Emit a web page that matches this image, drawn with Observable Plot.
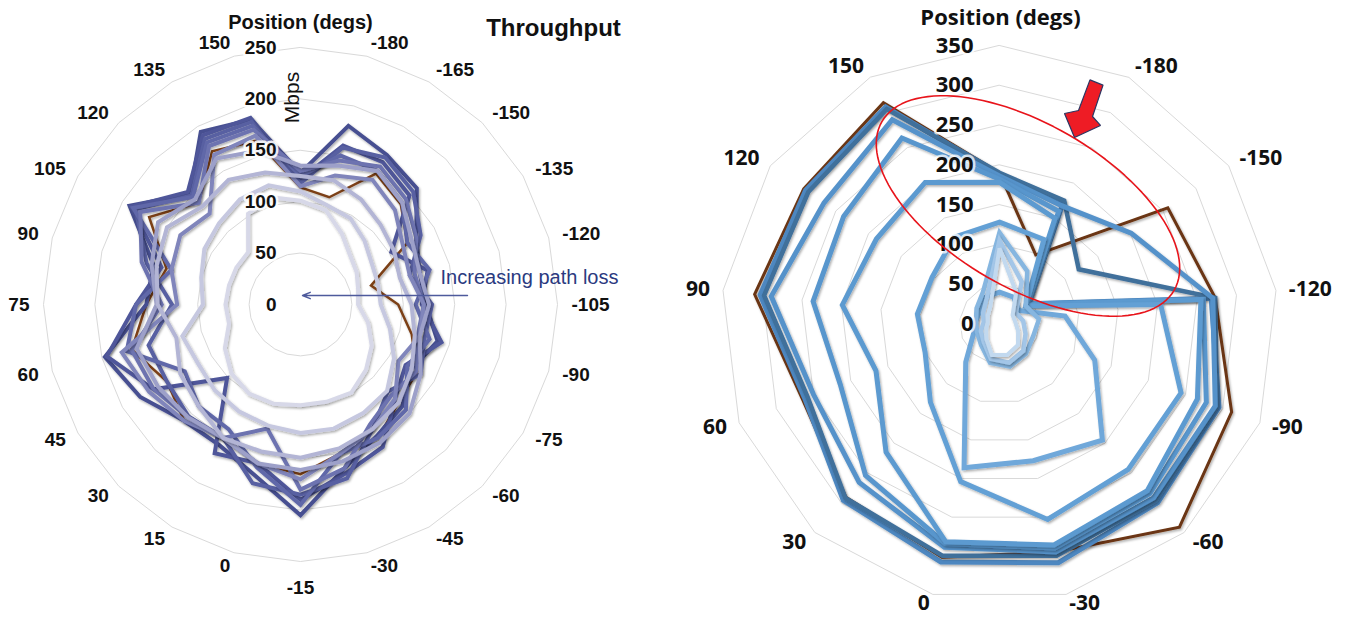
<!DOCTYPE html>
<html>
<head>
<meta charset="utf-8">
<script src="https://cdn.jsdelivr.net/npm/d3@7"></script>
<script src="https://cdn.jsdelivr.net/npm/@observablehq/plot@0.6"></script>
<style>
  html, body { margin: 0; padding: 0; background: #fff; }
  #wrap { position: relative; width: 1352px; height: 618px; overflow: hidden; }
  #left, #right { position: absolute; top: 0; width: 676px; height: 618px; }
  #left { left: 0; }
  #right { left: 676px; }
  svg { display: block; }
</style>
</head>
<body>
<div id="wrap"><div id="left"></div><div id="right"></div></div>
<script>
// ================= DATA =================
// ---- Left chart: Throughput, 24 positions (clockwise from top) ----
const leftPositions = [165, -180, -165, -150, -135, -120, -105, -90, -75, -60, -45, -30, -15, 0, 15, 30, 45, 60, 75, 90, 105, 120, 135, 150];
const leftTickLabels = ["", "-180", "-165", "-150", "-135", "-120", "-105", "-90", "-75", "-60", "-45", "-30", "-15", "0", "15", "30", "45", "60", "75", "90", "105", "120", "135", "150"];
const leftRadialTicks = [0, 50, 100, 150, 200, 250];
// Mbps per position
const leftBrown = [114, 108, 147, 138, 120, 71, 95, 112, 131, 135, 150, 150, 165, 160, 150, 160, 150, 170, 150, 135, 170, 140, 172, 165];
const leftS1 = [128, 180, 168, 160, 130, 120, 122, 138, 125, 140, 148, 165, 205, 172, 158, 160, 180, 197, 150, 148, 192, 152, 194, 186];
const leftS2 = [122, 160, 160, 150, 102, 128, 118, 142, 118, 130, 160, 170, 190, 160, 167, 101, 165, 195, 160, 140, 190, 155, 190, 188];
const leftS3 = [118, 158, 165, 155, 135, 110, 128, 125, 135, 120, 140, 175, 185, 180, 150, 154, 150, 153, 125, 155, 185, 150, 186, 184];
const leftS4 = [125, 150, 150, 140, 120, 130, 112, 130, 120, 145, 150, 150, 195, 164, 140, 140, 130, 175, 160, 130, 188, 148, 182, 180];
const leftS5 = [130, 145, 155, 145, 130, 115, 120, 118, 130, 125, 135, 165, 180, 125, 150, 155, 165, 170, 135, 160, 180, 140, 178, 176];
const leftS6 = [115, 130, 140, 130, 115, 110, 120, 120, 110, 130, 140, 150, 170, 160, 150, 160, 170, 180, 120, 130, 135, 125, 168, 170];
const leftS7 = [135, 140, 150, 140, 125, 120, 125, 120, 135, 150, 155, 158, 161, 160, 150, 155, 160, 165, 140, 150, 160, 145, 164, 155];
const leftS8 = [125, 125, 118, 110, 105, 100, 108, 115, 125, 135, 140, 145, 149, 148, 150, 140, 135, 125, 139, 145, 150, 135, 140, 133];
const leftS9 = [110, 100, 97, 88, 80, 78, 78, 90, 105, 119, 122, 125, 125, 122, 120, 118, 115, 119, 95, 100, 108, 112, 118, 120];
const leftS10 = [101, 95, 80, 68, 63, 58, 56, 68, 80, 90, 99, 98, 98, 100, 100, 95, 85, 72, 73, 72, 72, 72, 102, 108];

// ---- Right chart: 13 positions (clockwise from top; top label not shown) ----
const rightPositions = [180, -180, -150, -120, -90, -60, -30, 0, 30, 60, 90, 120, 150];
const rightTickLabels = ["", "-180", "-150", "-120", "-90", "-60", "-30", "0", "30", "60", "90", "120", "150"];
const rightRadialTicks = [0, 50, 100, 150, 200, 250, 300, 350];
const rightBrown = [190, 98, 257, 273, 312, 341, 295, 302, 291, 265, 310, 299, 314];
const rightB1 = [188, 172, 45, 268, 295, 300, 309, 308, 296, 262, 303, 296, 308];
const rightB2 = [190, 175, 121, 273, 292, 296, 300, 300, 292, 258, 298, 292, 305];
const rightB3 = [186, 168, 201, 270, 290, 292, 295, 289, 266, 250, 289, 268, 290];
const rightB4 = [182, 160, 44, 258, 278, 285, 290, 284, 254, 214, 236, 238, 264];
const rightB5 = [178, 150, 42, 255, 266, 280, 286, 282, 215, 166, 199, 188, 201];
const rightB6 = [128, 120, 40, 204, 244, 244, 253, 204, 131, 100, 104, 103, 123];
const rightB7 = [40, 38, 30, 83, 128, 195, 177, 186, 64, 35, 30, 30, 38];
const rightB8 = [115, 75, 40, 50, 45, 50, 55, 50, 35, 30, 30, 35, 45];
const rightB9 = [105, 60, 25, 30, 35, 45, 50, 45, 30, 25, 20, 25, 35];
const rightB10 = [95, 45, 20, 20, 25, 35, 40, 40, 25, 18, 15, 18, 25];

// ================= STYLES =================
const leftSeries = [leftBrown, leftS1, leftS2, leftS3, leftS4, leftS5, leftS6, leftS7, leftS8, leftS9, leftS10];
const leftColors = ["#7b3f17", "#474f91", "#4f579a", "#5860a2", "#6168a9", "#6d73b0", "#8085bb", "#9da0c9", "#b3b5d5", "#c6c8e0", "#d7d8e8"];
const leftWidths = [2.5, 4, 4, 4, 4, 4, 4, 4, 4, 4, 4];

const rightSeries = [rightBrown, rightB1, rightB2, rightB3, rightB4, rightB5, rightB6, rightB7, rightB8, rightB9, rightB10];
const rightColors = ["#6b3512", "#4d87c0", "#3f6f9b", "#5592ca", "#5896cd", "#5c9ad0", "#63a0d5", "#70a8da", "#86b6e0", "#a3c6e8", "#c2d9ef"];
const rightWidths = [3, 5, 4.5, 5, 5, 5, 5, 5, 4.5, 4.5, 4];

// ================= HELPERS =================
function spokePoints(values, n, key) {
  return values.map((v, i) => {
    const a = 2 * Math.PI * i / n;
    return {key, i, x: v * Math.sin(a), y: v * Math.cos(a)};
  });
}

function radar(cfg) {
  const {el, n, series, colors, widths, ticks, labels, rmax, cx, cy, k, W, H,
         font, catSize, tickSize, gap, bottomDy, lowDy, tickDx, extraMarks, tickHaloOpacity} = cfg;
  const xDomain = [-cx / k, (W - cx) / k];
  const yDomain = [-(H - cy) / k, cy / k];
  const rings = ticks.filter(t => t > 0).flatMap(t => spokePoints(d3.range(n).map(() => t), n, t));
  const rLab = rmax + gap / k;
  const cats = labels.map((lab, i) => {
    const a = 2 * Math.PI * i / n, s = Math.sin(a), c = Math.cos(a);
    const side = s > 0.05 ? "start" : s < -0.05 ? "end" : "middle";
    const dy = side === "middle" ? (c < 0 ? bottomDy : 0) : (c < -0.9 ? lowDy : 0);
    return {lab, x: rLab * s, y: rLab * c, side, dy};
  }).filter(d => d.lab !== "");
  const catMarks = [];
  for (const side of ["start", "end", "middle"]) {
    for (const dy of Array.from(new Set(cats.map(d => d.dy)))) {
      const sub = cats.filter(d => d.side === side && d.dy === dy);
      if (sub.length) catMarks.push(Plot.text(sub, {
        x: "x", y: "y", text: "lab", textAnchor: side, dy,
        fontWeight: "bold", fontSize: catSize, fontFamily: font, fill: "#111"
      }));
    }
  }
  const marks = [
    Plot.line(rings, {x: "x", y: "y", z: "key", stroke: "#d9d9d9", strokeWidth: 1, curve: "linear-closed"}),
    ...series.map((vals, si) => Plot.line(spokePoints(vals, n, si), {
      x: "x", y: "y", stroke: colors[si], strokeWidth: widths[si], curve: "linear-closed",
      strokeLinejoin: "miter", strokeMiterlimit: 3, ariaDescription: "series"
    })),
    Plot.text(ticks, {x: () => 0, y: d => d, text: d => String(d), dx: tickDx, textAnchor: "end",
      fontWeight: "bold", fontSize: tickSize, fontFamily: font, fill: "#111",
      stroke: "white", strokeWidth: 5, strokeOpacity: tickHaloOpacity}),
    ...catMarks,
    ...(extraMarks || [])
  ];
  const chart = Plot.plot({
    width: W, height: H, margin: 0,
    x: {domain: xDomain, range: [0, W], axis: null},
    y: {domain: yDomain, range: [H, 0], axis: null},
    style: {fontFamily: font, background: "white", overflow: "visible"},
    marks
  });
  // Excel-like soft drop shadow on the data lines
  const id = "sh" + el;
  const defs = document.createElementNS("http://www.w3.org/2000/svg", "defs");
  defs.innerHTML = `<filter id="${id}" x="-20%" y="-20%" width="140%" height="140%"><feDropShadow dx="1.2" dy="1.6" stdDeviation="1.1" flood-color="#000" flood-opacity="0.32"/></filter>`;
  chart.insertBefore(defs, chart.firstChild);
  chart.querySelectorAll('g[aria-description="series"]').forEach(g => g.setAttribute("filter", `url(#${id})`));
  document.getElementById(el).appendChild(chart);
}

// ================= LEFT CHART =================
const LCX = 300, LCY = 304, LK = 257 / 250;
const leftFont = "Liberation Sans, Arial, Helvetica, sans-serif";
radar({
  el: "left", n: leftPositions.length, series: leftSeries, colors: leftColors, widths: leftWidths,
  ticks: leftRadialTicks, labels: leftTickLabels, rmax: 250, cx: LCX, cy: LCY, k: LK, W: 676, H: 618,
  font: leftFont, catSize: 19, tickSize: 19, gap: 14, bottomDy: 12, lowDy: 0, tickDx: -24, tickHaloOpacity: 0.9,
  extraMarks: [
    Plot.text(["Position (degs)"], {x: () => 0, y: () => (LCY - 22) / LK, text: d => d, fontWeight: "bold", fontSize: 20, fontFamily: leftFont, fill: "#111"}),
    Plot.text(["Throughput"], {x: () => (553 - LCX) / LK, y: () => (LCY - 28) / LK, text: d => d, fontWeight: "bold", fontSize: 24, fontFamily: leftFont, fill: "#111"}),
    Plot.text(["Mbps"], {x: () => -8 / LK, y: () => (LCY - 97) / LK, text: d => d, rotate: -90, fontSize: 21, fontFamily: leftFont, fill: "#111"}),
    Plot.text(["Increasing path loss"], {x: () => (529 - LCX) / LK, y: () => (LCY - 277) / LK, text: d => d, fontSize: 20, fontFamily: leftFont, fill: "#2b3a80"}),
    Plot.arrow([{x1: (467 - LCX) / LK, x2: 2 / LK, y: (LCY - 295) / LK}], {x1: "x1", x2: "x2", y1: "y", y2: "y", stroke: "#4e5a9c", strokeWidth: 1.4, headLength: 9, headAngle: 45})
  ]
});

// ================= RIGHT CHART =================
const RCX = 323, RCY = 323.5, RK = 278.5 / 350;
const rightFont = "Open Sans, Noto Sans, sans-serif";
// red ellipse annotation (data units: centre, semi-axes, tilt)
const ellipseCenter = [35.8, 148.3], ellipseAxes = [212, 103], ellipseTilt = -30;
const ellipsePts = d3.range(0, 361, 3).map(t => {
  const a = t * Math.PI / 180, p = ellipseTilt * Math.PI / 180;
  const ex = ellipseAxes[0] * Math.cos(a), ey = ellipseAxes[1] * Math.sin(a);
  return {x: ellipseCenter[0] + ex * Math.cos(p) - ey * Math.sin(p), y: ellipseCenter[1] + ex * Math.sin(p) + ey * Math.cos(p)};
});
// block arrow outline (data units)
const arrowShape = [
  {x: 113.7, y: 306.8}, {x: 130.1, y: 300.2}, {x: 116.9, y: 260.8}, {x: 126.9, y: 249.5},
  {x: 94.3, y: 234.4}, {x: 81.7, y: 264.5}, {x: 99.3, y: 268.3}
];
radar({
  el: "right", n: rightPositions.length, series: rightSeries, colors: rightColors, widths: rightWidths,
  ticks: rightRadialTicks, labels: rightTickLabels, rmax: 350, cx: RCX, cy: RCY, k: RK, W: 676, H: 618,
  font: rightFont, catSize: 21, tickSize: 22, gap: 13, bottomDy: 12, lowDy: -4, tickDx: -26, tickHaloOpacity: 0.75,
  extraMarks: [
    Plot.text(["Position (degs)"], {x: () => (1000 - 676 - RCX) / RK, y: () => (RCY - 17) / RK, text: d => d, fontWeight: "bold", fontSize: 22, fontFamily: rightFont, fill: "#111"}),
    Plot.line(ellipsePts, {x: "x", y: "y", stroke: "#e8141b", strokeWidth: 1.6, curve: "linear-closed"}),
    Plot.line(arrowShape, {x: "x", y: "y", fill: "#ee1c25", stroke: "#2b3562", strokeWidth: 1.2, curve: "linear-closed", strokeLinejoin: "miter"})
  ]
});
</script>
</body>
</html>
